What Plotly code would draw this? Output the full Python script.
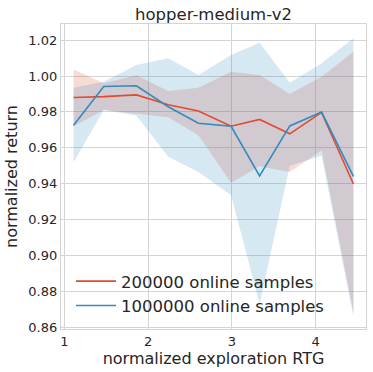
import plotly.graph_objects as go

# exploration RTG (normalized) used at each evaluation point
rtg = [1.11, 1.47, 1.86, 2.24, 2.60, 2.99, 3.33, 3.69, 4.07, 4.45]

# 200000 online samples
ret_200k = [0.988, 0.9885, 0.9895, 0.984, 0.9805, 0.972, 0.9758, 0.9678, 0.9797, 0.9398]
upper_200k = [1.0037, 0.996, 1.0004, 0.9916, 0.9935, 1.0024, 1.0006, 0.990, 0.9996, 1.0136]
lower_200k = [0.972, 0.981, 0.979, 0.977, 0.967, 0.9405, 0.9497, 0.9465, 0.9585, 0.868]

# 1000000 online samples
ret_1m = [0.9726, 0.9942, 0.9946, 0.9829, 0.9737, 0.972, 0.9443, 0.9722, 0.9799, 0.9441]
upper_1m = [0.9935, 0.9968, 1.0061, 1.0099, 1.0006, 1.0117, 1.0186, 0.9963, 1.0071, 1.0211]
lower_1m = [0.952, 0.981, 0.978, 0.955, 0.9465, 0.9335, 0.873, 0.950, 0.9555, 0.866]

series = [
    ("200000 online samples", ret_200k, lower_200k, upper_200k, "#E24A33", "rgba(226,74,51,0.2)"),
    ("1000000 online samples", ret_1m, lower_1m, upper_1m, "#348ABD", "rgba(52,138,189,0.2)"),
]

fig = go.Figure()

# shaded bands first
for name, _, lo, hi, _, fill in series:
    fig.add_trace(go.Scatter(x=rtg, y=lo, mode="lines", line=dict(width=0),
                             showlegend=False, hoverinfo="skip"))
    fig.add_trace(go.Scatter(x=rtg, y=hi, mode="lines", line=dict(width=0),
                             fill="tonexty", fillcolor=fill,
                             showlegend=False, hoverinfo="skip"))

# mean lines on top
for name, y, _, _, color, _ in series:
    fig.add_trace(go.Scatter(x=rtg, y=y, mode="lines", name=name,
                             line=dict(color=color, width=1.6)))

axis_common = dict(showgrid=True, gridcolor="#d4d4d4", gridwidth=1,
                   showline=True, linecolor="#d4d4d4", linewidth=1.3, mirror=True,
                   zeroline=False, ticks="", tickfont=dict(size=13, color="#262626"))

fig.update_layout(
    width=373, height=372,
    margin=dict(l=61, r=7, t=24, b=43),
    paper_bgcolor="white", plot_bgcolor="white",
    font=dict(family="DejaVu Sans", color="#262626"),
    title=dict(text="hopper-medium-v2", x=0.5, xref="paper", xanchor="center",
               y=0.962, yanchor="middle", font=dict(size=16.5, color="#262626")),
    legend=dict(x=0.033, y=0.02, xanchor="left", yanchor="bottom",
                bgcolor="rgba(0,0,0,0)", font=dict(size=16.5, color="#262626"),
                traceorder="normal", tracegroupgap=0, itemwidth=40),
    showlegend=True,
)

fig.update_xaxes(range=[0.96, 4.6], tickvals=[1, 2, 3, 4],
                 title=dict(text="normalized exploration RTG", font=dict(size=16), standoff=1),
                 **axis_common)
fig.update_yaxes(range=[0.859, 1.029], tickvals=[0.86, 0.88, 0.90, 0.92, 0.94, 0.96, 0.98, 1.00, 1.02],
                 tickformat=".2f",
                 title=dict(text="normalized return", font=dict(size=16), standoff=6),
                 **axis_common)

# drop the default page margin so the figure sits at the window's corner
fig.write_html("out.html", config={"displayModeBar": False},
               post_script="document.body.style.margin='0px';")
